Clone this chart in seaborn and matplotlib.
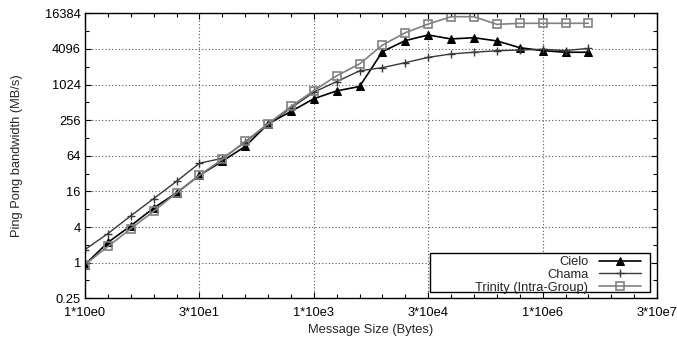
import matplotlib
matplotlib.use("Agg")
import matplotlib.pyplot as plt
import numpy as np
import pandas as pd
import seaborn as sns
from matplotlib.patches import Rectangle
from matplotlib.ticker import FixedLocator, NullFormatter

# message sizes (bytes)
sizes = [1, 2, 4, 8, 16, 32, 64, 128, 256, 512, 1024, 2048, 4096, 8192,
         16384, 32768, 65536, 131072, 262144, 524288, 1048576, 2097152, 4194304]

# ping pong bandwidth (MB/s)
cielo = [0.93, 2.2, 4.2, 8.4, 15.1, 30, 52, 92, 222, 360, 590, 800, 950,
         3690, 5670, 7040, 6040, 6340, 5590, 4300, 3830, 3600, 3600]
chama = [1.67, 3.1, 6.2, 12.1, 23.7, 48, 58, 108, 222, 410, 760, 1150, 1745,
         1980, 2400, 2950, 3370, 3600, 3820, 3930, 4040, 3850, 4180]
trinity = [0.93, 1.88, 3.75, 7.4, 15.1, 30, 56, 112, 222, 436, 810, 1440, 2290,
           4770, 7700, 10800, 14360, 14360, 10650, 11100, 11100, 11100, 11100]

xticks = [1, 32, 1024, 32768, 1048576, 33554432]
xtick_labels = ["1*10e0", "3*10e1", "1*10e3", "3*10e4", "1*10e6", "3*10e7"]
yticks = [0.25, 1, 4, 16, 64, 256, 1024, 4096, 16384]
ytick_labels = ["0.25", "1", "4", "16", "64", "256", "1024", "4096", "16384"]

df = pd.DataFrame({"size": sizes, "Cielo": cielo, "Chama": chama,
                   "Trinity (Intra-Group)": trinity})

sns.set_style("ticks")
plt.rcParams["font.family"] = ["Liberation Sans", "DejaVu Sans"]
fs = 9.3

fig, ax = plt.subplots(figsize=(6.77, 3.41), dpi=100)
fig.subplots_adjust(left=0.1256, right=0.9705, top=0.961, bottom=0.1252)

styles = {
    "Cielo": dict(color="black", marker="^", markersize=5.5, linewidth=1.2,
                  markerfacecolor="black", markeredgecolor="black"),
    "Chama": dict(color="#383838", marker="+", markersize=6, linewidth=1.0,
                  markeredgecolor="#383838", markeredgewidth=1.0),
    "Trinity (Intra-Group)": dict(color="#808080", marker="s", markersize=5.5,
                                  linewidth=1.2, markerfacecolor="none",
                                  markeredgecolor="#808080", markeredgewidth=1.2),
}
for name, kw in styles.items():
    sns.lineplot(data=df, x="size", y=name, ax=ax, label=name, **kw)

ax.set_xscale("log", base=2)
ax.set_yscale("log", base=2)
ax.set_xlim(1, 33554432)
ax.set_ylim(0.25, 16384)

ax.xaxis.set_major_locator(FixedLocator(xticks))
ax.set_xticklabels(xtick_labels)
ax.xaxis.set_minor_locator(FixedLocator([2.0 ** k for k in range(26)]))
ax.xaxis.set_minor_formatter(NullFormatter())
ax.yaxis.set_major_locator(FixedLocator(yticks))
ax.set_yticklabels(ytick_labels)
ax.yaxis.set_minor_locator(FixedLocator([0.5, 2, 8, 32, 128, 512, 2048, 8192]))
ax.yaxis.set_minor_formatter(NullFormatter())

ax.tick_params(which="both", direction="in", top=True, right=True,
               colors="black", labelsize=fs, width=0.8)
ax.tick_params(which="major", length=4)
ax.tick_params(axis="x", which="major", pad=6)
ax.tick_params(axis="y", which="major", pad=3)
ax.tick_params(which="minor", length=3)

ax.grid(True, which="major", linestyle=(0, (1, 2)), color="#555555",
        linewidth=0.8)
for s in ax.spines.values():
    s.set_color("black")
    s.set_linewidth(1.0)

ax.set_xlabel("Message Size (Bytes)", fontsize=fs)
ax.set_ylabel("Ping Pong bandwidth (MB/s)", fontsize=fs)
ax.xaxis.set_label_coords(0.5, -0.09)
ax.yaxis.set_label_coords(-0.108, 0.5)

leg = ax.legend(loc="lower right", bbox_to_anchor=(0.975, 0.012),
                markerfirst=False, frameon=False, fontsize=fs,
                handlelength=3.3, handletextpad=0.8, labelspacing=0.05,
                borderaxespad=0.0, borderpad=0.1)
ax.add_patch(Rectangle((0.603, 0.022), 0.385, 0.137, transform=ax.transAxes,
                       facecolor="white", edgecolor="black", linewidth=1.0,
                       zorder=4))
leg.set_zorder(5)

fig.savefig("out.png", dpi=100)
